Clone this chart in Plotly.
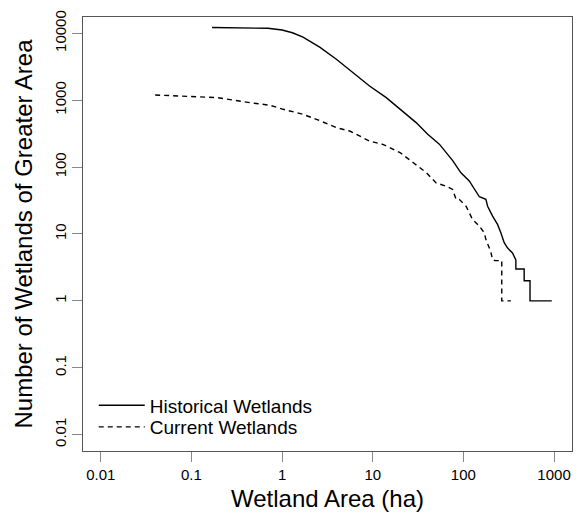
import plotly.graph_objects as go

# Historical wetlands: area (ha) vs number of wetlands of greater area
hist_area = [0.169, 0.4, 0.7, 1.0, 1.3, 1.70, 2.60, 3.97, 6.04, 9.22, 14.1, 21.4, 30.1,
             40.4, 54.3, 76.2, 94, 116, 150, 177, 185, 210, 238, 259, 282, 306, 348,
             379, 379, 468, 468, 543, 543, 944]
hist_count = [12200, 12150, 11900, 11200, 10200, 8800, 6200, 4090, 2590, 1633, 1094, 689, 462,
              309, 220, 125, 82, 62, 36, 32.9, 26, 18.5, 13.9, 10.4, 7.4, 6.2, 5.2,
              4.1, 3, 3, 2, 2, 1, 1]

# Current wetlands
curr_area = [0.0398, 0.0815, 0.19, 0.441, 0.733, 1.03, 1.70, 2.39, 3.97, 5.56, 9.22, 12.9,
             20, 27.6, 38.8, 50, 64, 76, 83, 90, 107, 116, 126, 150, 170, 177, 200,
             210, 224, 265, 265, 334]
curr_count = [1197, 1156, 1094, 920, 840, 731, 615, 518, 389, 346, 245, 219,
              165, 118, 83, 58, 52, 46.3, 32.9, 32.9, 26, 20.8, 16.5, 13.1, 10.4, 8.3, 5.5,
              4.1, 4, 4, 1, 1]

x_ticks = [0.01, 0.1, 1, 10, 100, 1000]
x_ticktext = ["0.01", "0.1", "1", "10", "100", "1000"]
y_ticks = [0.01, 0.1, 1, 10, 100, 1000, 10000]
y_ticktext = ["0.01", "0.1", "1", "10", "100", "1000", "10000"]

FONT = "Liberation Sans, Arial, sans-serif"

fig = go.Figure()
fig.add_trace(go.Scatter(x=hist_area, y=hist_count, mode="lines", name="Historical Wetlands",
                         line=dict(color="black", width=1.4), legend="legend"))
fig.add_trace(go.Scatter(x=curr_area, y=curr_count, mode="lines", name="Current Wetlands",
                         line=dict(color="black", width=1.4, dash="5px,4px"), legend="legend2"))

axis_common = dict(type="log", showgrid=False, zeroline=False, showline=True, mirror=True,
                   linecolor="#555555", linewidth=1.2, ticks="outside", ticklen=10,
                   tickcolor="#888888", tickwidth=1.2,
                   tickfont=dict(family=FONT, size=15, color="black"))

legend_common = dict(xanchor="left", yanchor="top", bgcolor="rgba(0,0,0,0)",
                     font=dict(size=19), itemwidth=46)

fig.update_layout(
    width=582, height=517,
    margin=dict(l=83, r=10, t=17, b=66),
    paper_bgcolor="white", plot_bgcolor="white",
    font=dict(family=FONT, color="black"),
    xaxis=dict(range=[-2.196, 3.198], tickvals=x_ticks, ticktext=x_ticktext,
               title=dict(text="Wetland Area (ha)", font=dict(size=24), standoff=8),
               **axis_common),
    yaxis=dict(range=[-2.245, 4.244], tickvals=y_ticks, ticktext=y_ticktext, tickangle=-90,
               title=dict(text="Number of Wetlands of Greater Area", font=dict(size=24), standoff=12),
               **axis_common),
    legend=dict(x=0.022, y=0.149, **legend_common),
    legend2=dict(x=0.022, y=0.099, **legend_common),
    showlegend=True,
)

fig.write_html("out.html")
